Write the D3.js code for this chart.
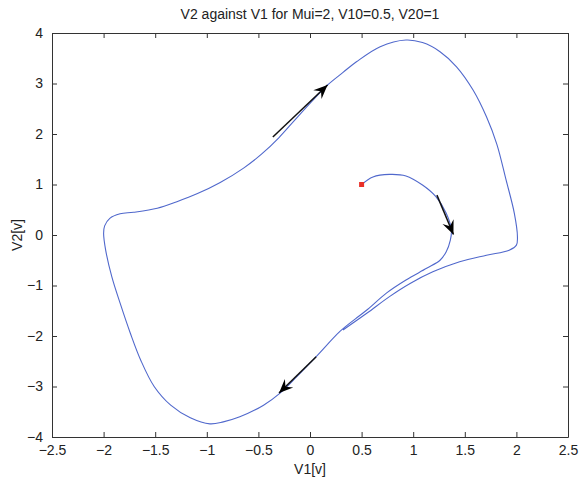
<!DOCTYPE html>
<html>
<head>
<meta charset="utf-8">
<style>
body { margin: 0; background: #fff; }
svg { font-family: "Liberation Sans", Arial, sans-serif; }
</style>
</head>
<body>
<svg width="579" height="484"></svg>
<script src="https://d3js.org/d3.v7.min.js"></script>
<script>

// values
var titleText = "V2 against V1 for Mui=2, V10=0.5, V20=1";
var xTicks = [-2.5, -2, -1.5, -1, -0.5, 0, 0.5, 1, 1.5, 2, 2.5];
var yTicks = [-4, -3, -2, -1, 0, 1, 2, 3, 4];

// transient from the start point into the limit cycle
var transientV1 = [0.5, 0.61, 0.77, 0.93, 1.09, 1.22, 1.32, 1.37, 1.36, 1.32, 1.26, 1.13, 0.93, 0.74, 0.56, 0.44];
var transientV2 = [1.0, 1.15, 1.20, 1.17, 0.99, 0.76, 0.43, 0.10, -0.10, -0.33, -0.50, -0.66, -0.89, -1.15, -1.47, -1.66];

// one turn of the limit cycle
var cycleV1 = [0.29, 0.06, -0.13, -0.29, -0.45, -0.68, -0.84, -0.97, -1.16, -1.35, -1.51, -1.64, -1.74, -1.84, -1.92, -1.98, -2.0, -1.99, -1.94, -1.84, -1.71, -1.48, -1.29, -1.09, -0.87, -0.64, -0.47, -0.30, -0.15, 0.02, 0.17, 0.32, 0.45, 0.68, 0.93, 1.09, 1.26, 1.42, 1.58, 1.71, 1.81, 1.90, 1.98, 2.01, 2.0, 1.93, 1.71, 1.45, 1.19, 0.97, 0.77, 0.55, 0.32];
var cycleV2 = [-1.91, -2.41, -2.81, -3.13, -3.37, -3.60, -3.70, -3.74, -3.62, -3.37, -3.0, -2.48, -1.95, -1.35, -0.83, -0.30, 0.03, 0.18, 0.33, 0.42, 0.45, 0.53, 0.66, 0.82, 1.04, 1.33, 1.60, 1.93, 2.27, 2.65, 2.97, 3.22, 3.43, 3.73, 3.86, 3.81, 3.63, 3.33, 2.87, 2.34, 1.80, 1.09, 0.43, -0.03, -0.2, -0.30, -0.40, -0.53, -0.73, -0.96, -1.22, -1.55, -1.88];

var startV1 = [0.5];
var startV2 = [1];

// direction arrows: tail and tip
var arrowTailV1 = [-0.36, 1.23, 0.06];
var arrowTailV2 = [1.94, 0.79, -2.41];
var arrowTipV1 = [0.17, 1.39, -0.30];
var arrowTipV2 = [2.97, 0.01, -3.13];

var svg = d3.select("svg"),
    margin = {top: 33, right: 11, bottom: 47, left: 52},
    width = +svg.attr("width") - margin.left - margin.right,
    height = +svg.attr("height") - margin.top - margin.bottom;

var x = d3.scaleLinear().domain([-2.5, 2.5]).range([0, width]);
var y = d3.scaleLinear().domain([-4, 4]).range([height, 0]);

var g = svg.append("g").attr("transform", "translate(" + margin.left + "," + margin.top + ")");

var axisColor = "#333";

// axes: ticks point inward, mirrored on top and right (box)
g.append("g")
    .attr("transform", "translate(0," + height + ")")
    .call(d3.axisBottom(x).tickValues(xTicks).tickSizeInner(-5).tickSizeOuter(0).tickPadding(8).tickFormat(d3.format("")));
g.append("g")
    .call(d3.axisTop(x).tickValues(xTicks).tickSizeInner(-5).tickSizeOuter(0).tickFormat(""));
g.append("g")
    .call(d3.axisLeft(y).tickValues(yTicks).tickSizeInner(-5).tickSizeOuter(0).tickPadding(9).tickFormat(d3.format("")));
g.append("g")
    .attr("transform", "translate(" + width + ",0)")
    .call(d3.axisRight(y).tickValues(yTicks).tickSizeInner(-5).tickSizeOuter(0).tickFormat(""));

g.selectAll(".domain").attr("stroke", axisColor);
g.selectAll(".tick line").attr("stroke", axisColor);
g.selectAll(".tick text").attr("fill", "#222").style("font-size", "14px");

var trajectory = transientV1.map(function(v, i) { return [v, transientV2[i]]; })
    .concat(cycleV1.map(function(v, i) { return [v, cycleV2[i]]; }));

var line = d3.line()
    .x(function(d) { return x(d[0]); })
    .y(function(d) { return y(d[1]); })
    .curve(d3.curveCatmullRom.alpha(0.5));

g.append("path")
    .datum(trajectory)
    .attr("fill", "none")
    .attr("stroke", "#5068cc")
    .attr("stroke-width", 1.1)
    .attr("d", line);

// arrows
svg.append("defs").append("marker")
    .attr("id", "head")
    .attr("markerUnits", "userSpaceOnUse")
    .attr("viewBox", "-14 -7 16 14")
    .attr("markerWidth", 16)
    .attr("markerHeight", 14)
    .attr("refX", 0)
    .attr("refY", 0)
    .attr("orient", "auto")
  .append("path")
    .attr("d", "M0,0 L-14,-6 L-9,0 L-14,6 Z")
    .attr("fill", "#000");

g.selectAll(".arrow")
    .data(arrowTailV1.map(function(v, i) { return {x0: v, y0: arrowTailV2[i], x1: arrowTipV1[i], y1: arrowTipV2[i]}; }))
  .enter().append("line")
    .attr("class", "arrow")
    .attr("x1", function(d) { return x(d.x0); })
    .attr("y1", function(d) { return y(d.y0); })
    .attr("x2", function(d) { return x(d.x1); })
    .attr("y2", function(d) { return y(d.y1); })
    .attr("stroke", "#111")
    .attr("stroke-width", 1.5)
    .attr("marker-end", "url(#head)");

// start point
g.selectAll(".start")
    .data(startV1)
  .enter().append("rect")
    .attr("class", "start")
    .attr("x", function(d) { return x(d) - 2.5; })
    .attr("y", function(d, i) { return y(startV2[i]) - 2.5; })
    .attr("width", 5)
    .attr("height", 5)
    .attr("fill", "#e8302a");

// title and labels
svg.append("text")
    .attr("x", margin.left + width / 2)
    .attr("y", 19)
    .attr("text-anchor", "middle")
    .attr("fill", "#222")
    .style("font-size", "14px")
    .text(titleText);

svg.append("text")
    .attr("x", margin.left + width / 2)
    .attr("y", 474)
    .attr("text-anchor", "middle")
    .attr("fill", "#222")
    .style("font-size", "14px")
    .text("V1[v]");

svg.append("text")
    .attr("transform", "translate(22," + (margin.top + height / 2) + ") rotate(-90)")
    .attr("text-anchor", "middle")
    .attr("fill", "#222")
    .style("font-size", "14px")
    .text("V2[v]");

</script>
</body>
</html>
